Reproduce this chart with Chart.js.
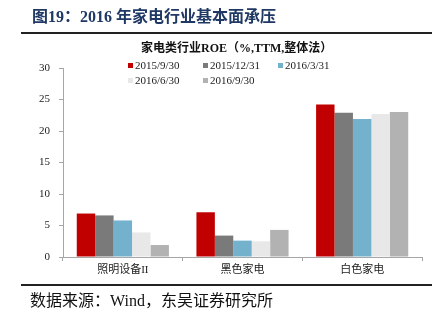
<!DOCTYPE html>
<html><head><meta charset="utf-8">
<script src="https://cdn.jsdelivr.net/npm/chart.js@4/dist/chart.umd.min.js"></script>
<style>
html,body{margin:0;padding:0;background:#fff;}
#wrap{position:relative;width:439px;height:323px;overflow:hidden;}
#c{position:absolute;left:0;top:0;}
.t{position:absolute;white-space:nowrap;}
#title{left:32px;top:3px;font:bold 16px "Liberation Serif","Noto Sans CJK SC";color:#1F3864;}
#line1{position:absolute;left:21px;top:32px;width:411px;height:2px;background:#222;}
#line2{position:absolute;left:21px;top:284px;width:411px;height:2px;background:#222;}
#ctitle{left:141px;top:38px;font:bold 12px "Liberation Serif","Noto Sans CJK SC";color:#111;}
#src{left:30px;top:287px;font:16px "Liberation Serif","Noto Sans CJK SC";color:#111;}
.lg{position:absolute;font:11px "Liberation Serif","Noto Sans CJK SC";color:#222;white-space:nowrap;}
.lg i{position:absolute;left:0;top:4px;width:5px;height:5px;}
.lg span{position:absolute;left:7px;top:0;}
</style></head>
<body>
<div id="wrap">
<canvas id="c" width="439" height="323"></canvas>
<div class="t" id="title">图19：2016 年家电行业基本面承压</div>
<div id="line1"></div>
<div class="t" id="ctitle">家电类行业ROE（%,TTM,整体法）</div>
<div id="legend"></div>
<div id="line2"></div>
<div class="t" id="src">数据来源：Wind，东吴证券研究所</div>
</div>
<script>
const categories = ['照明设备II', '黑色家电', '白色家电'];
const seriesNames = ['2015/9/30', '2015/12/31', '2016/3/31', '2016/6/30', '2016/9/30'];
const s2015Q3 = [6.9, 7.1, 24.2];
const s2015Q4 = [6.6, 3.4, 22.9];
const s2016Q1 = [5.8, 2.6, 21.9];
const s2016Q2 = [3.9, 2.5, 22.7];
const s2016Q3 = [1.9, 4.3, 23.0];
const yTicks = [0, 5, 10, 15, 20, 25, 30];
const colors = ['#C00000', '#7A7A7A', '#73B1CC', '#E8E8E8', '#B2B2B2'];

const seriesValues = [s2015Q3, s2015Q4, s2016Q1, s2016Q2, s2016Q3];
const datasets = seriesNames.map((n, i) => ({
  label: n, data: seriesValues[i], backgroundColor: colors[i],
  borderWidth: 0, barPercentage: 1, categoryPercentage: 0.77
}));

const axisColor = '#A6A6A6';
const tickFont = {family: '"Liberation Serif","Noto Sans CJK SC"', size: 11};
new Chart(document.getElementById('c'), {
  type: 'bar',
  data: {labels: categories, datasets},
  options: {
    responsive: false, animation: false, devicePixelRatio: 1,
    layout: {padding: {top: 68, left: 0, right: 17, bottom: 41}},
    plugins: {legend: {display: false}, title: {display: false}, tooltip: {enabled: false}},
    scales: {
      x: {
        grid: {display: true, drawOnChartArea: false, offset: true, color: axisColor, tickLength: 4},
        border: {color: axisColor},
        ticks: {color: '#222', font: tickFont, padding: 3, maxRotation: 0},
        afterFit: s => { s.height = 25; }
      },
      y: {
        min: 0, max: 30,
        afterBuildTicks: s => { s.ticks = yTicks.map(v => ({value: v})); },
        grid: {display: true, drawOnChartArea: false, color: axisColor, tickLength: 4},
        border: {color: axisColor},
        ticks: {color: '#222', font: tickFont, padding: 9},
        afterFit: s => { s.width = 63; }
      }
    }
  }
});

// legend built from the series names / colours
const lgPos = [[128, 59], [203, 59], [278, 59], [128, 74], [203, 74]];
const lg = document.getElementById('legend');
seriesNames.forEach((n, i) => {
  const d = document.createElement('div');
  d.className = 'lg';
  d.style.left = lgPos[i][0] + 'px';
  d.style.top = lgPos[i][1] + 'px';
  d.innerHTML = '<i style="background:' + colors[i] + '"></i><span>' + n + '</span>';
  lg.appendChild(d);
});
</script>
</body></html>
